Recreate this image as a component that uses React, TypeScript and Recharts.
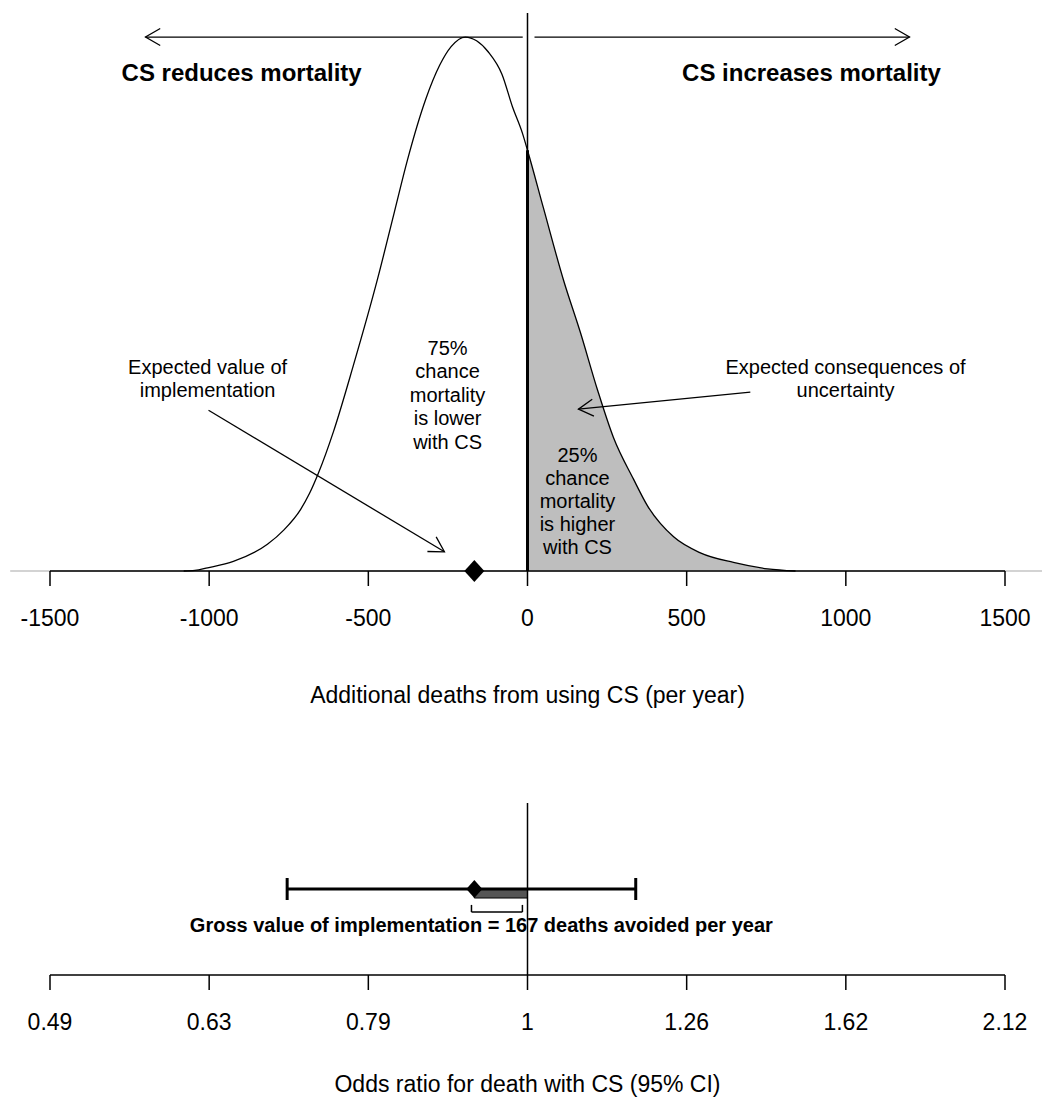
import React from 'react';
import {
  ComposedChart, Line, Area, Scatter, ErrorBar, XAxis, YAxis,
  ReferenceLine, ReferenceDot, ReferenceArea,
} from 'recharts';

// x axis shared by both panels: additional deaths per year
const deathTicks = [-1500, -1000, -500, 0, 500, 1000, 1500];
// the odds ratio labels sit at the same positions as the death ticks
const orTickLabels = ['0.49', '0.63', '0.79', '1', '1.26', '1.62', '2.12'];

// density of additional deaths (peak = 1)
const curveX = [-1080, -1045, -1005, -924, -817, -765, -713, -685, -657, -609, -547, -471, -420, -377, -320, -276, -240, -195, -160, -123, -80, -47, -16, 0, 50, 113, 166, 220, 270, 333, 377, 459, 543, 647, 754, 842];
const curveY = [0, 0.001, 0.006, 0.018, 0.05, 0.077, 0.115, 0.145, 0.183, 0.262, 0.385, 0.547, 0.668, 0.77, 0.883, 0.947, 0.982, 1.0, 0.993, 0.972, 0.93, 0.869, 0.82, 0.788, 0.68, 0.545, 0.447, 0.339, 0.25, 0.172, 0.122, 0.064, 0.034, 0.016, 0.004, 0];

const expectedDeaths = -167;

// confidence interval of the odds ratio, in death units
const ciLower = -755;
const ciUpper = 340;
const bracketFrom = -176;
const bracketTo = -16;

const curveData = curveX.map((x, i) => ({ x, d: curveY[i], tail: x >= 0 ? curveY[i] : null }));

const FONT = "'Liberation Sans', Arial, Helvetica, sans-serif";

const ArrowShape = (p: any) => {
  const { x1, y1, x2, y2 } = p;
  const a = Math.atan2(y2 - y1, x2 - x1);
  const len = 17;
  const s = Math.PI / 6;
  const hx1 = x2 - len * Math.cos(a - s);
  const hy1 = y2 - len * Math.sin(a - s);
  const hx2 = x2 - len * Math.cos(a + s);
  const hy2 = y2 - len * Math.sin(a + s);
  return (
    <g>
      <line x1={x1} y1={y1} x2={x2} y2={y2} stroke="#000" strokeWidth={1.3} />
      <polyline points={`${hx1},${hy1} ${x2},${y2} ${hx2},${hy2}`} fill="none" stroke="#000" strokeWidth={1.3} />
    </g>
  );
};

const textBlock = (lines: string[], size: number, bold = false, step = 23.5) => (p: any) => (
  <text x={p.cx} y={p.cy} textAnchor="middle" fontSize={size} fontWeight={bold ? 700 : 400} fill="#000" fontFamily={FONT}>
    {lines.map((l, i) => (
      <tspan key={i} x={p.cx} dy={i === 0 ? 0 : step}>{l}</tspan>
    ))}
  </text>
);

const Diamond = (w: number, h: number) => (p: any) => (
  <polygon points={`${p.cx},${p.cy - h} ${p.cx + w},${p.cy} ${p.cx},${p.cy + h} ${p.cx - w},${p.cy}`} fill="#000" />
);

const axisProps = {
  type: 'number' as const,
  dataKey: 'x',
  domain: [-1500, 1500],
  ticks: deathTicks,
  interval: 0 as const,
  tickSize: 15,
  tickMargin: 24,
  axisLine: { stroke: '#000', strokeWidth: 1.5 },
  tickLine: { stroke: '#000', strokeWidth: 1.5 },
  tick: { fill: '#000', fontSize: 23, fontFamily: FONT },
};

export default function App() {
  return (
    <div style={{ position: 'absolute', left: 0, top: 0, width: 1042, height: 1099, background: '#fff', fontFamily: FONT }}>
      <div style={{ position: 'absolute', left: 0, top: 0 }}>
        <ComposedChart width={1042} height={730} data={curveData} margin={{ top: 13, right: 37, left: 50, bottom: 0 }}>
          <XAxis {...axisProps} height={159}
            label={{ value: 'Additional deaths from using CS (per year)', position: 'insideBottom', offset: 27, fill: '#000', fontSize: 23 }} />
          <YAxis hide type="number" domain={[0, 1.045]} />
          <ReferenceLine segment={[{ x: -1625, y: 0 }, { x: 1620, y: 0 }]} ifOverflow="visible" stroke="#c4c4c4" strokeWidth={1.5} />
          <Area type="monotone" dataKey="tail" fill="#bebebe" fillOpacity={1} stroke="none" isAnimationActive={false} />
          <ReferenceLine x={0} stroke="#000" strokeWidth={1.5} />
          <ReferenceLine segment={[{ x: 0, y: 0 }, { x: 0, y: 0.788 }]} stroke="#000" strokeWidth={3} />
          <Line type="monotone" dataKey="d" stroke="#000" strokeWidth={1.3} dot={false} isAnimationActive={false} />
          <ReferenceLine segment={[{ x: -15, y: 1.0 }, { x: -1200, y: 1.0 }]} shape={ArrowShape} />
          <ReferenceLine segment={[{ x: 22, y: 1.0 }, { x: 1200, y: 1.0 }]} shape={ArrowShape} />
          <ReferenceLine segment={[{ x: -1002, y: 0.301 }, { x: -261, y: 0.036 }]} shape={ArrowShape} />
          <ReferenceLine segment={[{ x: 700, y: 0.335 }, { x: 160, y: 0.303 }]} shape={ArrowShape} />
          <ReferenceDot x={-898} y={0.918} r={0} shape={textBlock(['CS reduces mortality'], 24, true)} />
          <ReferenceDot x={892} y={0.918} r={0} shape={textBlock(['CS increases mortality'], 24, true)} />
          <ReferenceDot x={-1005} y={0.369} r={0} shape={textBlock(['Expected value of', 'implementation'], 20)} />
          <ReferenceDot x={-251} y={0.405} r={0} shape={textBlock(['75%', 'chance', 'mortality', 'is lower', 'with CS'], 20)} />
          <ReferenceDot x={999} y={0.369} r={0} shape={textBlock(['Expected consequences of', 'uncertainty'], 20)} />
          <ReferenceDot x={157} y={0.204} r={0} shape={textBlock(['25%', 'chance', 'mortality', 'is higher', 'with CS'], 20, false, 23)} />
          <Scatter data={[{ x: expectedDeaths, y: 0 }]} dataKey="y" shape={Diamond(10, 11)} isAnimationActive={false} />
        </ComposedChart>
      </div>
      <div style={{ position: 'absolute', left: 0, top: 780 }}>
        <ComposedChart width={1042} height={319} margin={{ top: 23, right: 37, left: 50, bottom: 0 }}>
          <XAxis {...axisProps} height={124}
            tickFormatter={(v: number) => orTickLabels[deathTicks.indexOf(v)]}
            label={{ value: 'Odds ratio for death with CS (95% CI)', position: 'insideBottom', offset: 7, fill: '#000', fontSize: 23 }} />
          <YAxis hide type="number" domain={[0, 4]} />
          <ReferenceLine x={0} stroke="#000" strokeWidth={1.5} />
          <ReferenceArea x1={expectedDeaths} x2={0} y1={1.79} y2={2} fill="#555555" fillOpacity={1} stroke="#000" strokeWidth={1} />
          <ReferenceLine segment={[{ x: bracketFrom, y: 1.465 }, { x: bracketTo, y: 1.465 }]} stroke="#000" strokeWidth={1.5} />
          <ReferenceLine segment={[{ x: bracketFrom, y: 1.465 }, { x: bracketFrom, y: 1.63 }]} stroke="#000" strokeWidth={1.5} />
          <ReferenceLine segment={[{ x: bracketTo, y: 1.465 }, { x: bracketTo, y: 1.63 }]} stroke="#000" strokeWidth={1.5} />
          <Scatter
            data={[{ x: expectedDeaths, y: 2, err: [expectedDeaths - ciLower, ciUpper - expectedDeaths] }]}
            dataKey="y" shape={Diamond(8, 9)} isAnimationActive={false}>
            <ErrorBar dataKey="err" direction="x" width={11} strokeWidth={3} stroke="#000" isAnimationActive={false} />
          </Scatter>
          <ReferenceDot x={-145} y={1.0} r={0} shape={textBlock(['Gross value of implementation = 167 deaths avoided per year'], 20, true)} />
        </ComposedChart>
      </div>
    </div>
  );
}
